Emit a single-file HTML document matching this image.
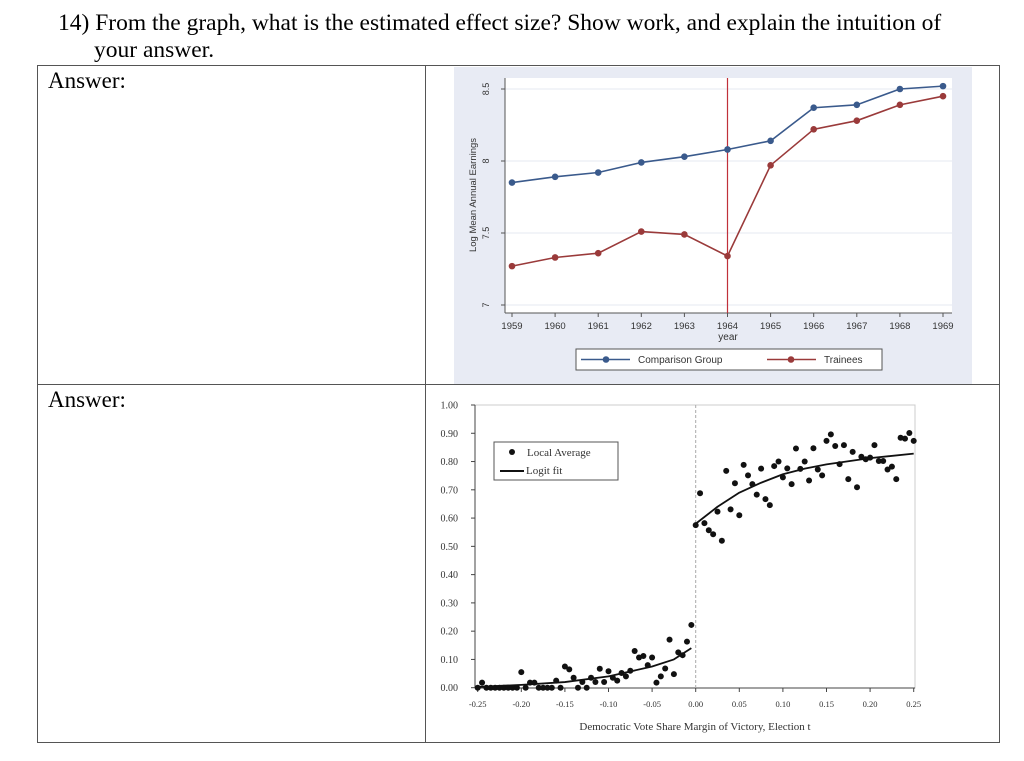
<!DOCTYPE html>
<html><head><meta charset="utf-8">
<style>
body{margin:0;width:1024px;height:761px;background:#fff;position:relative;overflow:hidden;font-family:"Liberation Serif",serif;}
.t{position:absolute;font-size:23.5px;color:#000;white-space:nowrap;line-height:1;}
.ln{position:absolute;background:#555;}
svg{position:absolute;left:0;top:0;}
</style></head><body>
<div class="t" style="left:58px;top:12px;">14) From the graph, what is the estimated effect size? Show work, and explain the intuition of</div>
<div class="t" style="left:94px;top:39px;">your answer.</div>
<div>
<div class="ln" style="left:37px;top:65px;width:963px;height:1px;"></div>
<div class="ln" style="left:37px;top:384px;width:963px;height:1px;"></div>
<div class="ln" style="left:37px;top:742px;width:963px;height:1px;"></div>
<div class="ln" style="left:37px;top:65px;width:1px;height:678px;"></div>
<div class="ln" style="left:425px;top:65px;width:1px;height:678px;"></div>
<div class="ln" style="left:999px;top:65px;width:1px;height:678px;"></div>
</div>
<div class="t" style="left:48px;top:69px;font-size:23px;">Answer:</div>
<div class="t" style="left:48px;top:388px;font-size:23px;">Answer:</div>

<svg id="s" width="1024" height="761"></svg>
<script>
// ---- top chart data ----
const years=[1959,1960,1961,1962,1963,1964,1965,1966,1967,1968,1969];
const comparison=[7.85,7.89,7.92,7.99,8.03,8.08,8.14,8.37,8.39,8.50,8.52];
const trainees=[7.27,7.33,7.36,7.51,7.49,7.34,7.97,8.22,8.28,8.39,8.45];
const topYTicks=[7,7.5,8,8.5];
const topYLabels=["7","7.5","8","8.5"];
const treatYear=1964;
// ---- bottom chart data ----
const leftX=[-0.25,-0.245,-0.24,-0.235,-0.23,-0.225,-0.22,-0.215,-0.21,-0.205,-0.2,-0.195,-0.19,-0.185,-0.18,-0.175,-0.17,-0.165,-0.16,-0.155,-0.15,-0.145,-0.14,-0.135,-0.13,-0.125,-0.12,-0.115,-0.11,-0.105,-0.1,-0.095,-0.09,-0.085,-0.08,-0.075,-0.07,-0.065,-0.06,-0.055,-0.05,-0.045,-0.04,-0.035,-0.03,-0.025,-0.02,-0.015,-0.01,-0.005];
const leftY=[0,0.018,0,0,0,0,0,0,0,0,0.055,0,0.018,0.018,0,0,0,0,0.025,0,0.075,0.065,0.035,0,0.02,0,0.035,0.02,0.067,0.02,0.058,0.035,0.025,0.052,0.04,0.06,0.13,0.107,0.112,0.08,0.107,0.018,0.04,0.068,0.17,0.048,0.125,0.115,0.163,0.222];
const rightX=[0,0.005,0.01,0.015,0.02,0.025,0.03,0.035,0.04,0.045,0.05,0.055,0.06,0.065,0.07,0.075,0.08,0.085,0.09,0.095,0.1,0.105,0.11,0.115,0.12,0.125,0.13,0.135,0.14,0.145,0.15,0.155,0.16,0.165,0.17,0.175,0.18,0.185,0.19,0.195,0.2,0.205,0.21,0.215,0.22,0.225,0.23,0.235,0.24,0.245,0.25];
const rightY=[0.575,0.688,0.582,0.557,0.543,0.623,0.52,0.767,0.631,0.723,0.61,0.788,0.751,0.72,0.683,0.775,0.667,0.646,0.784,0.8,0.744,0.776,0.72,0.846,0.774,0.8,0.733,0.847,0.772,0.751,0.873,0.896,0.855,0.791,0.858,0.738,0.834,0.709,0.817,0.808,0.814,0.858,0.802,0.802,0.772,0.782,0.738,0.884,0.881,0.901,0.873];
const fitLX=[-0.25,-0.2,-0.15,-0.1,-0.05,-0.025,-0.005];
const fitLY=[0.003,0.01,0.02,0.04,0.075,0.1,0.14];
const fitRX=[0,0.025,0.05,0.075,0.1,0.125,0.15,0.2,0.25];
const fitRY=[0.58,0.64,0.69,0.725,0.755,0.775,0.79,0.812,0.828];
const botYTicks=[0,0.1,0.2,0.3,0.4,0.5,0.6,0.7,0.8,0.9,1.0];
const botXTicks=[-0.25,-0.2,-0.15,-0.1,-0.05,0,0.05,0.1,0.15,0.2,0.25];

const NS="http://www.w3.org/2000/svg";
const svg=document.getElementById('s');
function mk(tag,attrs,parent,text){const e=document.createElementNS(NS,tag);for(const k in attrs)e.setAttribute(k,attrs[k]);if(text!==undefined)e.textContent=text;(parent||svg).appendChild(e);return e;}

// ===== top chart =====
const tx=y=>512+(y-1959)*43.1;
const ty=v=>305-(v-7)*144;
const g1=mk('g',{});


mk('rect',{x:454,y:67,width:518,height:317,fill:'#e8ebf4'},g1);
mk('rect',{x:505,y:78,width:447,height:235,fill:'#fff'},g1);
topYTicks.forEach((v,i)=>{
  const l=mk('line',{x1:505,x2:952,y1:ty(v),y2:ty(v),stroke:'#e6e9f2','stroke-width':1},g1);
  
  mk('line',{x1:501,x2:505,y1:ty(v),y2:ty(v),stroke:'#555'},g1);
  const t=mk('text',{x:489,y:ty(v),'font-size':9,'font-family':'Liberation Sans, sans-serif',fill:'#333','text-anchor':'middle',transform:`rotate(-90 489 ${ty(v)})`},g1,topYLabels[i]);
  
});
mk('line',{x1:505,x2:505,y1:78,y2:313,stroke:'#555'},g1);
mk('line',{x1:505,x2:952,y1:313,y2:313,stroke:'#555'},g1);
years.forEach(y=>{
  mk('line',{x1:tx(y),x2:tx(y),y1:313,y2:317,stroke:'#555'},g1);
  const t=mk('text',{x:tx(y),y:329,'font-size':9.5,'font-family':'Liberation Sans, sans-serif',fill:'#333','text-anchor':'middle'},g1,String(y));
  
});
const xt=mk('text',{x:728,y:340,'font-size':10,'font-family':'Liberation Sans, sans-serif',fill:'#333','text-anchor':'middle'},g1,'year');

const yt=mk('text',{x:476,y:195,'font-size':9.5,'font-family':'Liberation Sans, sans-serif',fill:'#333','text-anchor':'middle',transform:'rotate(-90 476 195)'},g1,'Log Mean Annual Earnings');

const vl=mk('line',{x1:tx(treatYear),x2:tx(treatYear),y1:78,y2:313,stroke:'#c0303a','stroke-width':1.2},g1);

function series(vals,col,name){
  const pts=years.map((y,i)=>tx(y)+','+ty(vals[i])).join(' ');
  const p=mk('polyline',{points:pts,fill:'none',stroke:col,'stroke-width':1.6},g1);
  
  years.forEach((y,i)=>{const c=mk('circle',{cx:tx(y),cy:ty(vals[i]),r:3.3,fill:col},g1);
    });
}
series(comparison,'#3a5a8c','comparison');
series(trainees,'#9a3a3a','trainees');
const lg=mk('g',{},g1);


mk('rect',{x:576,y:349,width:306,height:21,fill:'#fff',stroke:'#555'},lg);
mk('line',{x1:581,x2:630,y1:359.5,y2:359.5,stroke:'#3a5a8c','stroke-width':1.6},lg);
mk('circle',{cx:606,cy:359.5,r:3.3,fill:'#3a5a8c'},lg);
mk('text',{x:638,y:363,'font-size':10,'font-family':'Liberation Sans, sans-serif',fill:'#333'},lg,'Comparison Group');
mk('line',{x1:767,x2:816,y1:359.5,y2:359.5,stroke:'#9a3a3a','stroke-width':1.6},lg);
mk('circle',{cx:791,cy:359.5,r:3.3,fill:'#9a3a3a'},lg);
mk('text',{x:824,y:363,'font-size':10,'font-family':'Liberation Sans, sans-serif',fill:'#333'},lg,'Trainees');

// ===== bottom chart =====
const bx=v=>695.7+v*872;
const by=v=>687.7-v*282.7;
const g2=mk('g',{});


mk('rect',{x:475,y:405,width:440,height:283,fill:'none',stroke:'#ccc'},g2);
mk('line',{x1:475,x2:475,y1:405,y2:688,stroke:'#444'},g2);
mk('line',{x1:475,x2:915,y1:688,y2:688,stroke:'#444'},g2);
botYTicks.forEach(v=>{
  mk('line',{x1:471,x2:475,y1:by(v),y2:by(v),stroke:'#444'},g2);
  const t=mk('text',{x:458,y:by(v)+3.5,'font-size':10,'font-family':'Liberation Serif, serif',fill:'#333','text-anchor':'end'},g2,v.toFixed(2));
  
});
botXTicks.forEach(v=>{
  mk('line',{x1:bx(v),x2:bx(v),y1:688,y2:692,stroke:'#444'},g2);
  const t=mk('text',{x:bx(v),y:707,'font-size':8.5,'font-family':'Liberation Serif, serif',fill:'#333','text-anchor':'middle'},g2,v.toFixed(2));
  
});
const bxt=mk('text',{x:695,y:730,'font-size':11,'font-family':'Liberation Serif, serif',fill:'#333','text-anchor':'middle'},g2,'Democratic Vote Share Margin of Victory, Election t');

const cut=mk('line',{x1:bx(0),x2:bx(0),y1:405,y2:688,stroke:'#aaa','stroke-dasharray':'3,2'},g2);

function fit(xs,ys){const p=mk('polyline',{points:xs.map((x,i)=>bx(x)+','+by(ys[i])).join(' '),fill:'none',stroke:'#111','stroke-width':1.8,'stroke-linejoin':'round'},g2);
  }
fit(fitLX,fitLY);fit(fitRX,fitRY);
function pts(xs,ys){xs.forEach((x,i)=>{const c=mk('circle',{cx:bx(x),cy:by(ys[i]),r:3,fill:'#111'},g2);
  });}
pts(leftX,leftY);pts(rightX,rightY);
const lg2=mk('g',{},g2);


mk('rect',{x:494,y:442,width:124,height:38,fill:'#fff',stroke:'#555'},lg2);
mk('circle',{cx:512,cy:452,r:3,fill:'#111'},lg2);
mk('text',{x:527,y:456,'font-size':11,'font-family':'Liberation Serif, serif',fill:'#333'},lg2,'Local Average');
mk('line',{x1:500,x2:524,y1:471,y2:471,stroke:'#111','stroke-width':2},lg2);
mk('text',{x:526,y:474,'font-size':11,'font-family':'Liberation Serif, serif',fill:'#333'},lg2,'Logit fit');
</script>
</body></html>
